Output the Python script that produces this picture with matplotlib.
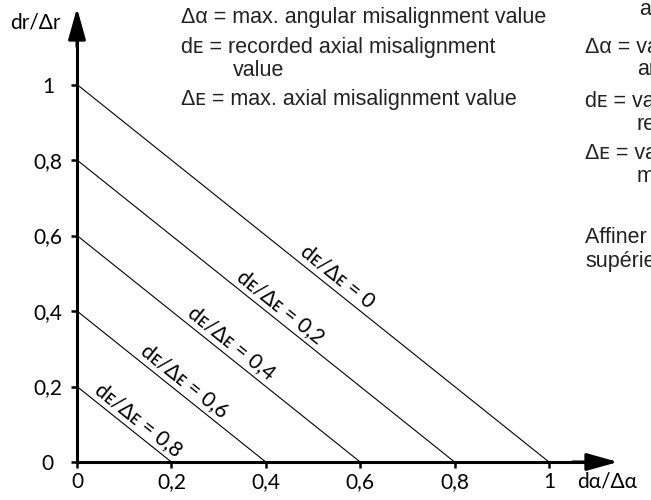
import numpy as np
import matplotlib
matplotlib.use('Agg')
from matplotlib import pyplot as plt

# ratio dE/ΔE of each line, and where along x its label sits
ratios = [0, 0.2, 0.4, 0.6, 0.8]
ratio_labels = ['0', '0,2', '0,4', '0,6', '0,8']
label_x = [0.535, 0.414, 0.311, 0.212, 0.114]

ticks = [0, 0.2, 0.4, 0.6, 0.8, 1]
tick_labels = ['0', '0,2', '0,4', '0,6', '0,8', '1']

legend_en = [
    ('Δα = max. angular misalignment value', 18, 181),
    ('dᴇ = recorded axial misalignment', 47, 181),
    ('value', 70, 233),
    ('Δᴇ = max. axial misalignment value', 100, 181),
]
legend_fr = [
    ('angulaire relevée', 10, 640),
    ('Δα = valeur max. du désalignement', 47, 585),
    ('angulaire', 70, 637),
    ('dᴇ = valeur du désalignement axial', 101, 585),
    ('relevée', 124, 637),
    ('Δᴇ = valeur max. du désalignement', 153, 585),
    ('maximal axial', 176, 637),
    ('Affiner l\'alignement', 238, 585),
    ('supérieur', 261, 585),
]

geo_font = ['Lato', 'DejaVu Sans']
txt_font = ['Liberation Sans', 'DejaVu Sans']

W, H = 651, 500
fig = plt.figure(figsize=(W / 100, H / 100), dpi=100)
ax = fig.add_axes([0, 0, 1, 1])
x0, y0 = 77, 462          # origin in pixels
sx, sy = 472, 377.5       # pixels per unit
ax.set_xlim(-x0 / sx, (W - x0) / sx)
ax.set_ylim(-(H - y0) / sy, y0 / sy)

for s in ['top', 'right']:
    ax.spines[s].set_visible(False)
for s in ['left', 'bottom']:
    ax.spines[s].set_position(('data', 0))
    ax.spines[s].set_linewidth(2.2)
ax.spines['left'].set_bounds(0, 1.14)
ax.spines['bottom'].set_bounds(0, 1.10)

ax.set_xticks(ticks, tick_labels)
ax.set_yticks(ticks, tick_labels)
ax.tick_params(axis='both', direction='out', length=4, width=1.8,
               labelsize=15)
ax.tick_params(axis='y', pad=17)
ax.tick_params(axis='x', pad=3)
for lab in ax.get_yticklabels():
    lab.set_horizontalalignment('center')
    lab.set_family(geo_font)
for lab in ax.get_xticklabels():
    lab.set_family(geo_font)

# axis arrow heads
arr = dict(arrowstyle='-|>,head_length=0.68,head_width=0.19',
           color='black', lw=2.2, mutation_scale=28, shrinkA=0, shrinkB=0)
ax.annotate('', xy=(0, (y0 - 8) / sy), xytext=(0, 1.1), arrowprops=arr)
ax.annotate('', xy=((618 - x0) / sx, 0), xytext=(1.05, 0), arrowprops=arr)

ax.text(-42 / sx, (y0 - 22) / sy, 'dr/Δr', fontsize=15, family=geo_font,
        ha='center', va='center')
ax.text((577 - x0) / sx, -20 / sy, 'dα/Δα', fontsize=15, family=geo_font,
        ha='left', va='center')

# diagonal lines dr/Δr + dα/Δα = 1 - dE/ΔE
p1 = ax.transData.transform((0, 1))
p2 = ax.transData.transform((1, 0))
ang = np.degrees(np.arctan2(p2[1] - p1[1], p2[0] - p1[0]))
nx, ny = -np.sin(np.radians(ang)), np.cos(np.radians(ang))
for r, rl, lx in zip(ratios, ratio_labels, label_x):
    top = 1 - r
    ax.plot([0, top], [top, 0], color='black', lw=0.8)
    ax.annotate('dᴇ/Δᴇ = ' + rl, xy=(lx, top - lx), xytext=(9 * nx, 9 * ny),
                textcoords='offset points', rotation=ang, rotation_mode='anchor',
                ha='center', va='center', fontsize=15, family=geo_font)

for t, yp, xp in legend_en + legend_fr:
    fig.text(xp / W, 1 - yp / H, t, fontsize=15.5, family=txt_font,
             ha='left', va='center', color='#222222')

fig.savefig('out.png', dpi=100)
